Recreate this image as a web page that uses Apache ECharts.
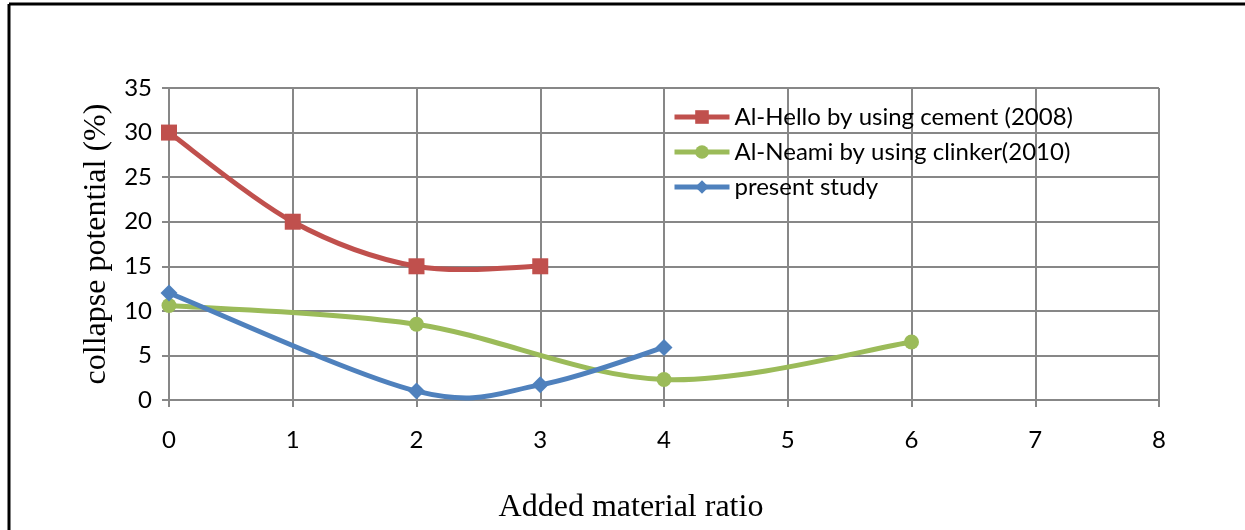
<!DOCTYPE html>
<html>
<head>
<meta charset="utf-8">
<script src="https://cdn.jsdelivr.net/npm/echarts@6/dist/echarts.min.js"></script>
<style>
html,body{margin:0;padding:0;background:#fff;}
#chart{width:1245px;height:530px;}
</style>
</head>
<body>
<div id="chart"></div>
<script>
const seriesNames = ['Al-Hello by using cement (2008)', 'Al-Neami by using clinker(2010)', 'present study'];
const helloX = [0, 1, 2, 3];
const helloY = [30, 20, 15, 15];
const neamiX = [0, 2, 4, 6];
const neamiY = [10.6, 8.5, 2.3, 6.5];
const presentX = [0, 2, 3, 4];
const presentY = [12, 1, 1.7, 5.9];
const xTicks = [0, 1, 2, 3, 4, 5, 6, 7, 8];
const yTicks = [0, 5, 10, 15, 20, 25, 30, 35];

const pair = (xs, ys) => xs.map((x, i) => [x, ys[i]]);
const colors = ['#C0504D', '#9BBB59', '#4F81BD'];
const symbols = ['rect', 'circle', 'diamond'];
const sizes = [16, 15, 17];
const datasets = [pair(helloX, helloY), pair(neamiX, neamiY), pair(presentX, presentY)];

// Smooth curve (Excel-like Catmull-Rom bezier) drawn through the axis scales
function curveSeries(idx) {
  const pts = datasets[idx];
  return {
    name: seriesNames[idx] + ' curve',
    type: 'custom',
    data: pts,
    z: 2,
    silent: true,
    renderItem: function (params, api) {
      const i = params.dataIndex;
      if (i >= pts.length - 1) return null;
      const c = pts.map(p => api.coord(p));
      const p0 = c[Math.max(i - 1, 0)], p1 = c[i], p2 = c[i + 1], p3 = c[Math.min(i + 2, c.length - 1)];
      const k = 1 / 6;
      return {
        type: 'bezierCurve',
        shape: {
          x1: p1[0], y1: p1[1], x2: p2[0], y2: p2[1],
          cpx1: p1[0] + (p2[0] - p0[0]) * k, cpy1: p1[1] + (p2[1] - p0[1]) * k,
          cpx2: p2[0] - (p3[0] - p1[0]) * k, cpy2: p2[1] - (p3[1] - p1[1]) * k
        },
        style: {stroke: colors[idx], lineWidth: 5, fill: null, lineCap: 'round'}
      };
    }
  };
}

const chart = echarts.init(document.getElementById('chart'), null, {renderer: 'canvas'});
const gridColor = '#878787';
chart.setOption({
  backgroundColor: '#ffffff',
  animation: false,
  grid: {left: 169, right: 86, top: 88, bottom: 130, containLabel: false, outerBoundsMode: 'none'},
  xAxis: {
    type: 'value', min: xTicks[0], max: xTicks[xTicks.length - 1], interval: 1,
    name: 'Added material ratio', nameLocation: 'middle', nameGap: 92,
    nameTextStyle: {fontFamily: 'Liberation Serif', fontSize: 32, color: '#000', padding: [0, 66, 0, 0]},
    axisLine: {show: true, lineStyle: {color: gridColor, width: 2}},
    axisTick: {show: true, length: 7, lineStyle: {color: gridColor, width: 2}},
    axisLabel: {fontFamily: 'Lato', fontSize: 24, color: '#000', margin: 28},
    splitLine: {show: true, lineStyle: {color: gridColor, width: 2}}
  },
  yAxis: {
    type: 'value', min: yTicks[0], max: yTicks[yTicks.length - 1], interval: 5,
    name: 'collapse potential (%)', nameLocation: 'middle', nameGap: 56, nameRotate: 90,
    nameTextStyle: {fontFamily: 'Liberation Serif', fontSize: 32, color: '#000'},
    axisLine: {show: true, lineStyle: {color: gridColor, width: 2}},
    axisTick: {show: true, length: 7, lineStyle: {color: gridColor, width: 2}},
    axisLabel: {fontFamily: 'Lato', fontSize: 24, color: '#000', margin: 17},
    splitLine: {show: true, lineStyle: {color: gridColor, width: 2}}
  },
  legend: {
    orient: 'vertical', left: 667, top: 100,
    itemWidth: 55, itemHeight: 17, itemGap: 11,
    lineStyle: {width: 5, opacity: 1},
    textStyle: {fontFamily: 'Lato', fontSize: 24, color: '#000'},
    data: seriesNames
  },
  series: seriesNames.map((n, i) => ({
    name: n, type: 'line', data: datasets[i], z: 3,
    symbol: symbols[i], symbolSize: sizes[i],
    lineStyle: {color: colors[i], width: 5, opacity: 0},
    itemStyle: {color: colors[i]}
  })).concat([0, 1, 2].map(curveSeries)),
  graphic: [
    {type: 'line', shape: {x1: 9, y1: 4, x2: 1245, y2: 4}, style: {stroke: '#000', lineWidth: 3}},
    {type: 'line', shape: {x1: 9, y1: 4, x2: 9, y2: 530}, style: {stroke: '#000', lineWidth: 3}}
  ]
});
</script>
</body>
</html>
